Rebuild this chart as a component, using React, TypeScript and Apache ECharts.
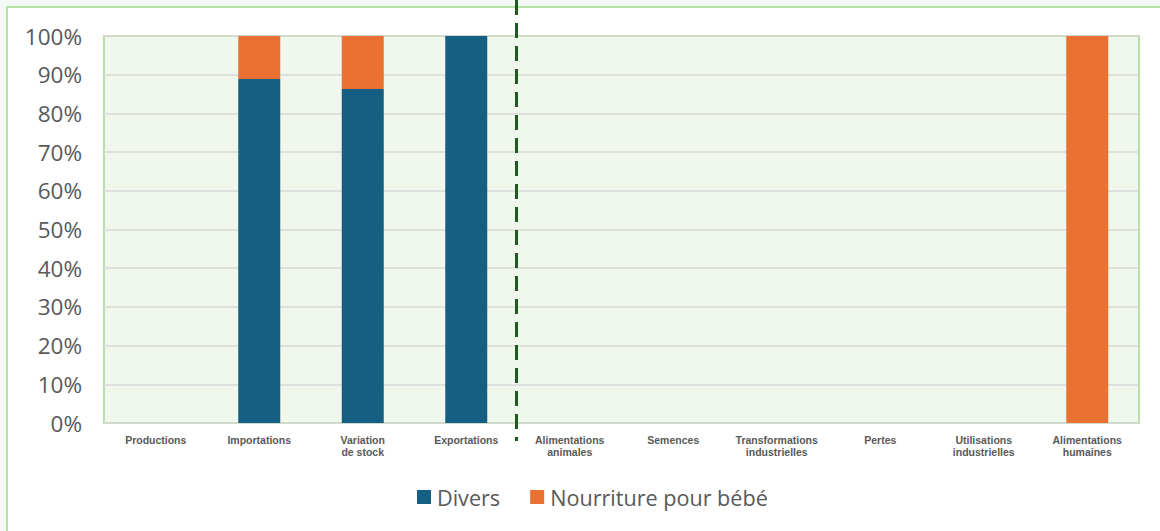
import React, { useEffect, useRef } from "react";
import * as echarts from "echarts";

const categories = [
  "Productions",
  "Importations",
  "Variation\nde stock",
  "Exportations",
  "Alimentations\nanimales",
  "Semences",
  "Transformations\nindustrielles",
  "Pertes",
  "Utilisations\nindustrielles",
  "Alimentations\nhumaines",
];
const diversValues = [0, 88.9, 86.3, 100, 0, 0, 0, 0, 0, 0];
const bebeValues = [0, 11.1, 13.7, 0, 0, 0, 0, 0, 0, 100];
const seriesNames = ["Divers", "Nourriture pour bébé"];
const dividerAfterIndex = 3;

export default function App() {
  const ref = useRef<HTMLDivElement>(null);
  useEffect(() => {
    const chart = echarts.init(ref.current!, null, { renderer: "svg" });
    chart.setOption({
      animation: false,
      backgroundColor: "#f4f9f7",
      textStyle: { fontFamily: "Liberation Sans, Arial, sans-serif" },
      grid: {
        left: 104,
        right: 21,
        top: 36,
        bottom: 108,
        show: true,
        backgroundColor: "#f0f7ec",
        borderColor: "#b6e2a8",
        borderWidth: 2,
      },
      legend: {
        top: 481,
        left: 412,
        itemWidth: 14,
        itemHeight: 14,
        itemGap: 30,
        icon: "rect",
        textStyle: {
          fontSize: 21.6,
          color: "#595959",
          fontFamily: "Open Sans, sans-serif",
          padding: [0, 0, 0, 1],
        },
        data: seriesNames,
      },
      xAxis: {
        type: "category",
        data: categories,
        axisLine: { show: false },
        axisTick: { show: false },
        axisLabel: {
          interval: 0,
          fontSize: 10.5,
          fontWeight: "bold",
          color: "#595959",
          lineHeight: 12,
          margin: 11,
        },
      },
      yAxis: {
        type: "value",
        min: 0,
        max: 100,
        interval: 10,
        axisLine: { show: false },
        axisTick: { show: false },
        splitLine: { lineStyle: { color: "#d9d9d9", width: 1.5 } },
        axisLabel: {
          formatter: "{value}%",
          fontSize: 22.5,
          color: "#595959",
          fontFamily: "Open Sans, sans-serif",
          margin: 22,
        },
      },
      series: [
        {
          name: seriesNames[0],
          type: "bar",
          stack: "s",
          barWidth: 42,
          itemStyle: { color: "#156082" },
          data: diversValues,
        },
        {
          name: seriesNames[1],
          type: "bar",
          stack: "s",
          barWidth: 42,
          itemStyle: { color: "#e97132" },
          data: bebeValues,
        },
      ],
    });
    const xa = chart.convertToPixel({ xAxisIndex: 0 }, categories[dividerAfterIndex]) as number;
    const xb = chart.convertToPixel({ xAxisIndex: 0 }, categories[dividerAfterIndex + 1]) as number;
    const xm = Math.round((xa + xb) / 2) - 1.5;
    chart.setOption({
      graphic: [
        {
          type: "rect",
          z: -10,
          silent: true,
          shape: { x: 7, y: 7, width: 1200, height: 600 },
          style: { fill: "#ffffff", stroke: "#b6e2a8", lineWidth: 2 },
        },
        {
          type: "line",
          z: 100,
          silent: true,
          shape: { x1: xm, y1: 0, x2: xm, y2: 441 },
          style: { stroke: "#1f5a1e", lineWidth: 3, lineDash: [15, 8] },
        },
      ],
    });
    return () => chart.dispose();
  }, []);
  return (
    <div
      ref={ref}
      style={{ position: "absolute", left: 0, top: 0, width: 1160, height: 531 }}
    />
  );
}
